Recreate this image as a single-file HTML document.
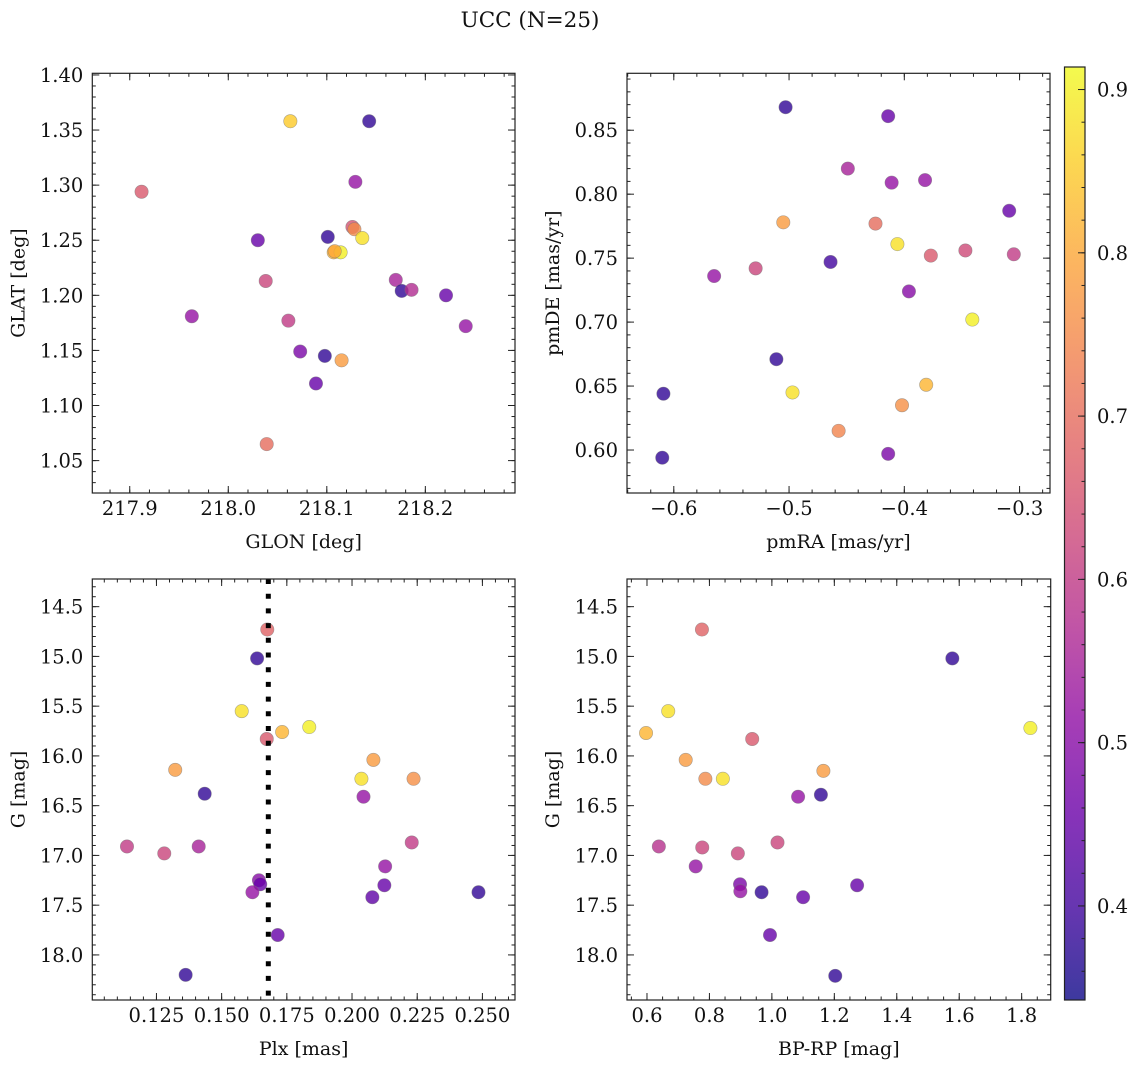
<!DOCTYPE html>
<html><head><meta charset="utf-8">
<style>
html,body{margin:0;padding:0;background:#fff;}
svg{display:block;font-family:"DejaVu Serif","Liberation Serif",serif;}
</style></head>
<body>
<svg id="fig" width="1136" height="1067" viewBox="0 0 1136 1067" xmlns="http://www.w3.org/2000/svg">
<text x="530" y="27" font-size="21.5" text-anchor="middle" fill="#111">UCC (N=25)</text>
</svg>
<script>
// ---- data (per panel) ----
const tlX=[217.912,218.063,218.143,218.129,218.030,218.101,218.126,218.128,218.107,218.114,218.136,218.038,217.963,218.061,218.073,218.098,218.089,218.115,218.170,218.176,218.186,218.221,218.241,218.039,218.108];
const tlY=[1.294,1.358,1.358,1.303,1.250,1.253,1.262,1.260,1.239,1.239,1.252,1.213,1.181,1.177,1.149,1.145,1.120,1.141,1.214,1.204,1.205,1.200,1.172,1.065,1.240];
const tlC=[0.66,0.85,0.38,0.52,0.45,0.38,0.65,0.75,0.82,0.90,0.88,0.62,0.52,0.60,0.48,0.38,0.45,0.78,0.55,0.38,0.57,0.45,0.52,0.70,0.80];

const trX=[-0.503,-0.414,-0.449,-0.411,-0.382,-0.309,-0.505,-0.425,-0.406,-0.377,-0.347,-0.305,-0.565,-0.529,-0.464,-0.396,-0.341,-0.511,-0.609,-0.497,-0.381,-0.402,-0.457,-0.610,-0.414];
const trY=[0.868,0.861,0.820,0.809,0.811,0.787,0.778,0.777,0.761,0.752,0.756,0.753,0.736,0.742,0.747,0.724,0.702,0.671,0.644,0.645,0.651,0.635,0.615,0.594,0.597];
const trC=[0.38,0.45,0.55,0.52,0.52,0.45,0.78,0.70,0.88,0.66,0.63,0.60,0.52,0.62,0.40,0.50,0.90,0.38,0.38,0.88,0.82,0.76,0.74,0.38,0.48];

const blX=[0.1675,0.1636,0.1577,0.1732,0.1836,0.1673,0.2082,0.2036,0.2236,0.1322,0.1435,0.2044,0.1137,0.1280,0.1412,0.2229,0.2127,0.1643,0.1648,0.1618,0.2124,0.2078,0.2485,0.1715,0.1362];
const blY=[14.73,15.02,15.55,15.76,15.71,15.83,16.04,16.23,16.23,16.14,16.38,16.41,16.91,16.98,16.91,16.87,17.11,17.25,17.29,17.37,17.30,17.42,17.37,17.80,18.20];
const blC=[0.68,0.38,0.88,0.82,0.90,0.66,0.78,0.88,0.76,0.78,0.38,0.52,0.60,0.62,0.55,0.60,0.52,0.50,0.45,0.52,0.45,0.44,0.38,0.45,0.38];
const plxLine=[0.1679];

const brX=[0.776,1.578,0.668,0.597,1.828,0.937,0.724,0.787,0.843,1.165,1.157,1.084,0.638,0.777,0.891,1.018,0.756,0.898,0.899,0.967,1.273,1.100,0.994,1.203];
const brY=[14.73,15.02,15.55,15.77,15.72,15.83,16.04,16.23,16.23,16.15,16.39,16.41,16.91,16.92,16.98,16.87,17.11,17.29,17.36,17.37,17.30,17.42,17.80,18.21];
const brC=[0.68,0.38,0.88,0.82,0.90,0.66,0.78,0.75,0.88,0.78,0.38,0.52,0.58,0.62,0.62,0.62,0.52,0.48,0.52,0.38,0.45,0.45,0.45,0.38];

const tlXTicks=[217.9,218.0,218.1,218.2], tlYTicks=[1.05,1.10,1.15,1.20,1.25,1.30,1.35,1.40];
const trXTicks=[-0.6,-0.5,-0.4,-0.3], trYTicks=[0.60,0.65,0.70,0.75,0.80,0.85];
const blXTicks=[0.125,0.150,0.175,0.200,0.225,0.250], gTicks=[14.5,15.0,15.5,16.0,16.5,17.0,17.5,18.0];
const brXTicks=[0.6,0.8,1.0,1.2,1.4,1.6,1.8];
const cbTicks=[0.4,0.5,0.6,0.7,0.8,0.9];
const cMin=0.3424, cMax=0.9138;

// ---- plasma colormap ----
const plasmaStops=["#0d0887","#41049d","#6a00a8","#8f0da4","#b12a90","#cc4778","#e16462","#f2844b","#fca636","#fcce25","#f0f921"];
function hex(h){return [1,3,5].map(i=>parseInt(h.substr(i,2),16));}
function plasma(t){t=Math.max(0,Math.min(1,t));const f=t*10,i=Math.min(9,Math.floor(f)),r=f-i;
 const a=hex(plasmaStops[i]),b=hex(plasmaStops[i+1]);
 return "rgb("+a.map((v,k)=>Math.round(v+(b[k]-v)*r)).join(",")+")";}
function cnorm(c){return (c-cMin)/(cMax-cMin);}

const NS="http://www.w3.org/2000/svg";
const svg=document.getElementById("fig");
function el(tag,attrs,parent){const e=document.createElementNS(NS,tag);for(const k in attrs)e.setAttribute(k,attrs[k]);(parent||svg).appendChild(e);return e;}

function fmtNum(v,d){const s=Math.abs(v).toFixed(d);return (v<0?"\u2212":"")+s;}
const TF=19.5, LF=19;

function panel(p){
 const g=el("g",{});
 
 
 const sx=v=>p.x0+(v-p.xd[0])/(p.xd[1]-p.xd[0])*(p.x1-p.x0);
 const sy=v=>p.y1-(v-p.yd[0])/(p.yd[1]-p.yd[0])*(p.y1-p.y0);
 const pts=el("g",{},g);
 
 
 for(let i=0;i<p.xs.length;i++){
  const c=el("circle",{cx:sx(p.xs[i]),cy:sy(p.ys[i]),r:6.7,fill:plasma(cnorm(p.cs[i])),"fill-opacity":0.8,stroke:"#777","stroke-opacity":0.6,"stroke-width":0.6},pts);
  
  
 }
 if(p.vline){
  const ln=el("line",{x1:sx(p.vline[0]),x2:sx(p.vline[0]),y1:p.y0,y2:p.y1,stroke:"#000","stroke-width":5,"stroke-dasharray":"5 9.7"},g);
  
  
 }
 const fr=el("rect",{x:p.x0,y:p.y0,width:p.x1-p.x0,height:p.y1-p.y0,fill:"none",stroke:"#222","stroke-width":1.2},g);
 
 
 const tk=el("g",{stroke:"#222","stroke-width":1},g);
 
 
 const lo=Math.min(p.xd[0],p.xd[1]),hi=Math.max(p.xd[0],p.xd[1]);
 for(let k=Math.ceil(lo/p.xm-1e-6);k*p.xm<=hi+1e-9;k++){const x=sx(k*p.xm);
  el("line",{x1:x,x2:x,y1:p.y1,y2:p.y1-3.5},tk);el("line",{x1:x,x2:x,y1:p.y0,y2:p.y0+3.5},tk);}
 const ylo=Math.min(p.yd[0],p.yd[1]),yhi=Math.max(p.yd[0],p.yd[1]);
 for(let k=Math.ceil(ylo/p.ym-1e-6);k*p.ym<=yhi+1e-9;k++){const y=sy(k*p.ym);
  el("line",{x1:p.x0,x2:p.x0+3.5,y1:y,y2:y},tk);el("line",{x1:p.x1,x2:p.x1-3.5,y1:y,y2:y},tk);}
 p.xt.forEach(v=>{const x=sx(v);
  el("line",{x1:x,x2:x,y1:p.y1,y2:p.y1-7},tk);el("line",{x1:x,x2:x,y1:p.y0,y2:p.y0+7},tk);
  const t=el("text",{x:x,y:p.y1+22,"font-size":TF,"text-anchor":"middle",fill:"#111"},g);t.textContent=fmtNum(v,p.xdp);
  
  });
 p.yt.forEach(v=>{const y=sy(v);
  el("line",{x1:p.x0,x2:p.x0+7,y1:y,y2:y},tk);el("line",{x1:p.x1,x2:p.x1-7,y1:y,y2:y},tk);
  const t=el("text",{x:p.x0-9,y:y+7,"font-size":TF,"text-anchor":"end",fill:"#111"},g);t.textContent=fmtNum(v,p.ydp);
  
  });
 const xl=el("text",{x:(p.x0+p.x1)/2,y:p.y1+55,"font-size":LF,"text-anchor":"middle",fill:"#111"},g);xl.textContent=p.xl;
 
 
 const yc=(p.y0+p.y1)/2,yx=p.x0-68;
 const yl=el("text",{x:yx,y:yc,"font-size":LF,"text-anchor":"middle",transform:`rotate(-90 ${yx} ${yc})`,fill:"#111"},g);yl.textContent=p.yl;
 
 
}

panel({name:"glon-glat-panel",x0:92.3,x1:515,y0:73.3,y1:493,xd:[217.862,218.291],yd:[1.0206,1.4015],xs:tlX,ys:tlY,cs:tlC,xt:tlXTicks,yt:tlYTicks,xm:0.02,ym:0.01,xdp:1,ydp:2,xl:"GLON [deg]",yl:"GLAT [deg]"});
panel({name:"proper-motion-panel",x0:627,x1:1050,y0:73.3,y1:493,xd:[-0.6406,-0.2736],yd:[0.5664,0.8945],xs:trX,ys:trY,cs:trC,xt:trXTicks,yt:trYTicks,xm:0.02,ym:0.01,xdp:1,ydp:2,xl:"pmRA [mas/yr]",yl:"pmDE [mas/yr]"});
panel({name:"parallax-g-panel",x0:92.3,x1:515,y0:579,y1:1000,xd:[0.1004,0.2625],yd:[18.453,14.222],xs:blX,ys:blY,cs:blC,xt:blXTicks,yt:gTicks,xm:0.005,ym:0.1,xdp:3,ydp:1,xl:"Plx [mas]",yl:"G [mag]",vline:plxLine});
panel({name:"cmd-panel",x0:627,x1:1050.7,y0:579,y1:1000,xd:[0.536,1.893],yd:[18.453,14.222],xs:brX,ys:brY,cs:brC,xt:brXTicks,yt:gTicks,xm:0.05,ym:0.1,xdp:1,ydp:1,xl:"BP-RP [mag]",yl:"G [mag]"});

// ---- colorbar ----
const cb={x0:1064.5,x1:1085,y0:67,y1:1000};
const defs=el("defs",{});
const grad=el("linearGradient",{id:"cbg",x1:0,y1:1,x2:0,y2:0},defs);
for(let i=0;i<=40;i++){const t=i/40;const v=cMin+t*(cMax-cMin);
 el("stop",{offset:t,"stop-color":plasma(cnorm(v)),"stop-opacity":0.8},grad);}
const cbg=el("g",{});


el("rect",{x:cb.x0,y:cb.y0,width:cb.x1-cb.x0,height:cb.y1-cb.y0,fill:"url(#cbg)",stroke:"#222","stroke-width":1.2},cbg);
const cy=v=>cb.y1-(v-cMin)/(cMax-cMin)*(cb.y1-cb.y0);
for(let k=Math.ceil(cMin/0.02);k*0.02<=cMax;k++){const y=cy(k*0.02);el("line",{x1:cb.x1,x2:cb.x1-3.5,y1:y,y2:y,stroke:"#222"},cbg);}
cbTicks.forEach(v=>{const y=cy(v);el("line",{x1:cb.x1,x2:cb.x1-7,y1:y,y2:y,stroke:"#222"},cbg);
 const t=el("text",{x:cb.x1+12,y:y+7,"font-size":TF,fill:"#111"},cbg);t.textContent=v.toFixed(1);
 
 });
</script>
</body></html>
